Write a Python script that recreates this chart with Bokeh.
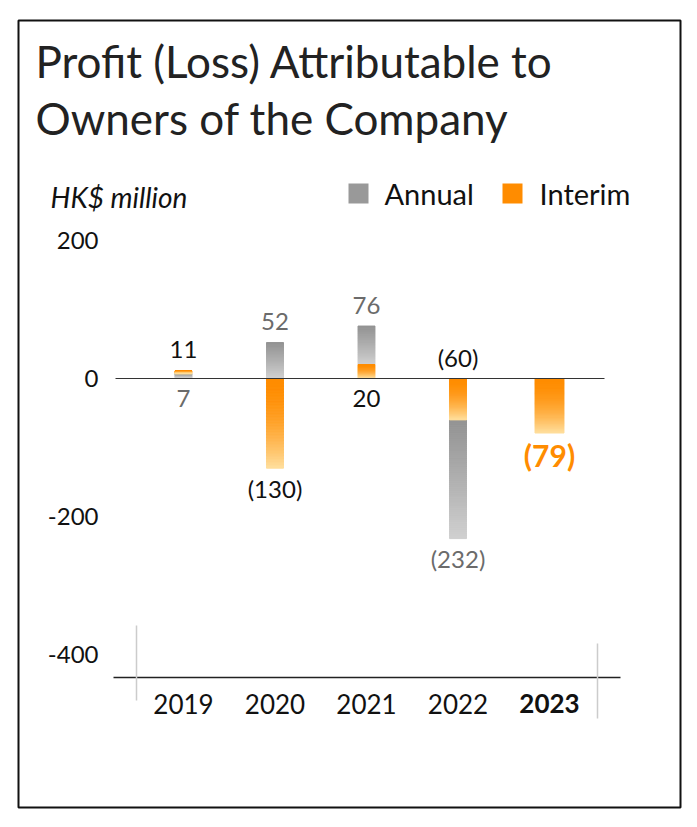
from bokeh.plotting import figure
from bokeh.models import Range1d, ColumnDataSource
from bokeh.core.properties import value
from bokeh.embed import file_html
from bokeh.resources import INLINE

# ---------------- data ----------------
years = ["2019", "2020", "2021", "2022", "2023"]
annual = [7, 52, 76, -232, None]
interim = [11, -130, 20, -60, -79]
y_ticks = [200, 0, -200, -400]
title_lines = ["Profit (Loss) Attributable to", "Owners of the Company"]
unit_label = "HK$ million"
series_names = ["Annual", "Interim"]

# ---------------- style / layout ----------------
FONT = "Lato"
GRAY = "#999999"
ORANGE = "#ff8c00"
GRAY_TOP, GRAY_BOT = (0x93, 0x93, 0x93), (0xd0, 0xd0, 0xd0)
ORG_TOP, ORG_BOT = (0xff, 0x8c, 0x00), (0xff, 0xde, 0x9c)

OFF = 0                      # page offset of the canvas
W, H = 684, 811
ML, MR, MT, MB = 18, 4, 20, 4
X0P, DXP = 183, 91.5      # page x of first category and spacing
Y0P, KY = 378, 0.69       # page y of zero and px per unit
frame_l, frame_r = OFF + ML, OFF + W - MR
frame_t, frame_b = OFF + MT, OFF + H - MB


def X(px):
    return (px - X0P) / DXP


def Y(py):
    return (Y0P - py) / KY


p = figure(width=W, height=H,
           x_range=Range1d(X(frame_l), X(frame_r)),
           y_range=Range1d(Y(frame_b), Y(frame_t)),
           x_axis_type=None, y_axis_type=None,
           toolbar_location=None, output_backend="svg",
           min_border_left=ML, min_border_right=MR,
           min_border_top=MT, min_border_bottom=MB)
p.outline_line_color = "#111111"
p.outline_line_width = 2
p.background_fill_color = "white"
p.border_fill_color = "white"
p.xgrid.visible = False
p.ygrid.visible = False

# ---------------- bars (gradient slices) ----------------
N = 60
BAR_W, BAR_W_HL = 0.186, 0.317


def mix(c0, c1, t):
    return "#%02x%02x%02x" % tuple(int(round(a + (b - a) * t)) for a, b in zip(c0, c1))


bx, btop, bbot, bcol, bw = [], [], [], [], []


def add_bar(i, lo, hi, ctop, cbot, w, gamma):
    for k in range(N):
        top = hi - (hi - lo) * k / N
        bot = hi - (hi - lo) * (k + 1) / N
        t = ((k + 0.5) / N) ** gamma
        bx.append(i)
        btop.append(top)
        bbot.append(bot)
        bcol.append(mix(ctop, cbot, t))
        bw.append(w)


def same_sign(a, b):
    return a is not None and b is not None and (a > 0) == (b > 0)


lab_x, lab_y, lab_txt, lab_col, lab_off, lab_size, lab_style = [], [], [], [], [], [], []

last = len(years) - 1
for i in range(len(years)):
    w = BAR_W_HL if i == last else BAR_W
    for v, o, ctop, cbot, gamma, col in (
            (annual[i], interim[i], GRAY_TOP, GRAY_BOT, 1.1, "#6b6b6b"),
            (interim[i], annual[i], ORG_TOP, ORG_BOT, 1.8, "#111111")):
        if v is None:
            continue
        start = o if (same_sign(v, o) and abs(v) > abs(o)) else 0
        add_bar(i, min(start, v), max(start, v), ctop, cbot, w, gamma)
        # label
        if same_sign(v, o) and abs(v) < abs(o):
            anchor = 0
            up = v < 0
        else:
            anchor = v
            up = v > 0
        lab_x.append(i)
        lab_y.append(anchor)
        lab_txt.append("(%d)" % abs(v) if v < 0 else str(v))
        if i == last:
            lab_col.append(ORANGE)
            lab_size.append("30px")
            lab_style.append("bold")
            lab_off.append(-22 if up else 22)
        else:
            lab_col.append(col)
            lab_size.append("24px")
            lab_style.append("normal")
            lab_off.append(-21 if up else 20)

bars = ColumnDataSource(dict(x=bx, top=btop, bottom=bbot, color=bcol, w=bw))
p.vbar(x="x", top="top", bottom="bottom", width="w", source=bars,
       fill_color="color", line_color="color", line_width=1)

labels = ColumnDataSource(dict(x=lab_x, y=lab_y, text=lab_txt, color=lab_col,
                               off=lab_off, size=lab_size, style=lab_style))
p.text(x="x", y="y", text="text", source=labels, text_color="color",
       y_offset="off", text_font_size="size", text_font_style="style",
       text_align="center", text_baseline="middle", text_font=value(FONT))

# ---------------- lines ----------------
p.segment(x0=[X(115)], y0=[0], x1=[X(604)], y1=[0], line_color="#333333", line_width=1)
p.segment(x0=[X(113)], y0=[Y(677)], x1=[X(620)], y1=[Y(677)], line_color="#222222", line_width=1.3)
p.segment(x0=[X(136), X(597)], y0=[Y(625), Y(643)], x1=[X(136), X(597)], y1=[Y(700), Y(718)],
          line_color="#cccccc", line_width=1.5)

# ---------------- y tick labels ----------------
p.text(x=[X(98)] * len(y_ticks), y=y_ticks, text=[str(t) for t in y_ticks],
       text_align="right", text_baseline="middle", text_font=value(FONT),
       text_font_size="24px", text_color="#111111")

# ---------------- year labels ----------------
ysrc = ColumnDataSource(dict(x=list(range(len(years))), y=[Y(703)] * len(years), text=years,
                             style=["bold" if i == last else "normal" for i in range(len(years))]))
p.text(x="x", y="y", text="text", source=ysrc, text_font_style="style",
       text_align="center", text_baseline="middle", text_font=value(FONT),
       text_font_size="26px", text_color="#111111")

# ---------------- title ----------------
p.text(x=[X(35), X(35)], y=[Y(60), Y(117)], text=title_lines, text_align="left",
       text_baseline="middle", text_font=value(FONT), text_font_size="44px",
       text_color="#222222")

# ---------------- unit label ----------------
p.text(x=[X(50)], y=[Y(196)], text=[unit_label], text_align="left", text_baseline="middle",
       text_font=value(FONT), text_font_size="28px", text_font_style="italic",
       text_color="#111111")

# ---------------- legend ----------------
p.scatter(x=[X(358), X(512)], y=[Y(193), Y(193)], marker="square", size=20,
          fill_color=[GRAY, ORANGE], line_color=None)
p.text(x=[X(384), X(539)], y=[Y(193), Y(193)], text=series_names, text_align="left",
       text_baseline="middle", text_font=value(FONT), text_font_size="29px",
       text_color="#111111")

open("out.html", "w").write(file_html(p, INLINE))
